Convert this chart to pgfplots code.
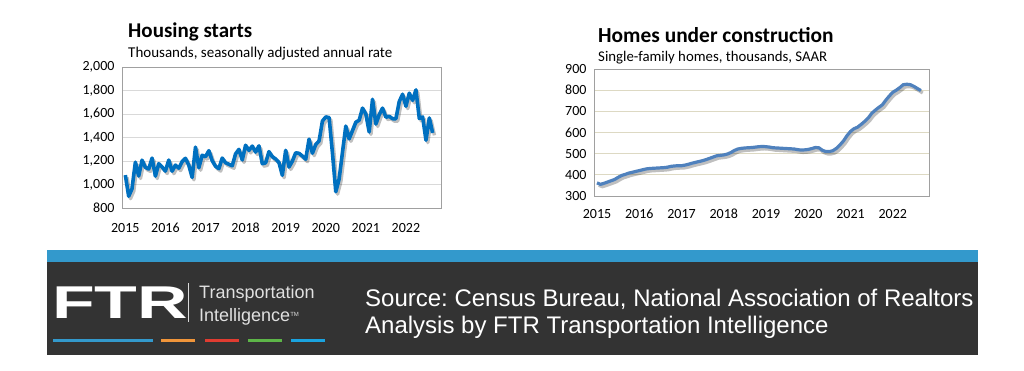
\documentclass[border=0pt]{standalone}
\usepackage{pgfplots}
\pgfplotsset{compat=1.18}
\usepackage{pgfplotstable}
\usepackage{fontspec}
\setmainfont{Carlito}
\newfontfamily\arial{Liberation Sans}
\frenchspacing
\definecolor{lineblue}{HTML}{0070C0}
\definecolor{linetwo}{HTML}{4F81BD}
\definecolor{gridgray}{HTML}{D9D9D9}
\definecolor{gridtan}{HTML}{DDD9C3}
\definecolor{bordergray}{HTML}{A0A0A0}
\definecolor{barblue}{HTML}{3399CC}
\definecolor{darkbg}{HTML}{333333}
\definecolor{dorange}{HTML}{F0953A}
\definecolor{dred}{HTML}{E03C31}
\definecolor{dgreen}{HTML}{5DB548}
\definecolor{dcyan}{HTML}{1AA3DF}

\pgfplotstableread{
m v
0 1080
1 900
2 964
3 1190
4 1072
5 1207
6 1146
7 1132
8 1225
9 1071
10 1177
11 1149
12 1114
13 1208
14 1113
15 1165
16 1139
17 1195
18 1223
19 1164
20 1060
21 1318
22 1142
23 1249
24 1236
25 1288
26 1203
27 1155
28 1135
29 1225
30 1185
31 1172
32 1159
33 1261
34 1299
35 1209
36 1334
37 1290
38 1327
39 1276
40 1329
41 1177
42 1184
43 1280
44 1237
45 1217
46 1187
47 1078
48 1291
49 1149
50 1199
51 1270
52 1265
53 1242
54 1215
55 1386
56 1266
57 1340
58 1371
59 1540
60 1575
61 1570
62 1269
63 938
64 1046
65 1273
66 1497
67 1388
68 1459
69 1530
70 1547
71 1650
72 1600
73 1447
74 1725
75 1514
76 1594
77 1650
78 1573
79 1580
80 1560
81 1560
82 1706
83 1768
84 1666
85 1777
86 1716
87 1805
88 1562
89 1575
90 1377
91 1566
92 1439
}\starts

\pgfplotstableread{
m v
0 362
1 355
2 360
3 366
4 372
5 378
6 388
7 397
8 402
9 408
10 412
11 416
12 420
13 424
14 428
15 430
16 431
17 432
18 433
19 434
20 436
21 440
22 442
23 443
24 443
25 446
26 450
27 455
28 459
29 463
30 467
31 472
32 478
33 484
34 490
35 492
36 494
37 498
38 505
39 515
40 522
41 525
42 527
43 528
44 529
45 531
46 533
47 534
48 533
49 531
50 528
51 527
52 526
53 525
54 524
55 523
56 522
57 519
58 517
59 518
60 520
61 524
62 529
63 528
64 516
65 510
66 510
67 514
68 525
69 541
70 560
71 585
72 605
73 618
74 625
75 638
76 652
77 668
78 690
79 705
80 718
81 730
82 752
83 772
84 790
85 800
86 812
87 826
88 828
89 826
90 818
91 808
92 798
}\underc

\pgfplotsset{
  ftrstyle/.style={
    scale only axis,
    axis line style={bordergray, line width=1pt},
    tick style={draw=none},
    ymajorgrids,
    xtick={0,12,...,84},
    xticklabels={2015,2016,2017,2018,2019,2020,2021,2022},
    tick label style={font=\fontsize{14}{14}\selectfont, text=black},
    /pgf/number format/assume math mode=true,
    /pgf/number format/1000 sep={,},
    xticklabel style={anchor=base, text height=9pt, text depth=0pt},
    yticklabel style={xshift=-4pt},
  }
}

\begin{document}
\begin{tikzpicture}[x=1pt,y=1pt]
\fill[white] (0,0) rectangle (1024,370);
\path[use as bounding box] (0,0) rectangle (1024,370);

% Left chart
\begin{axis}[ftrstyle,
  at={(122pt,162pt)}, anchor=south west,
  width=319pt, height=141pt,
  xmin=-1, xmax=94.5,
  ymin=800, ymax=2000,
  ytick={800,1000,...,2000},
  major grid style={gridgray, line width=0.9pt},
  xticklabel style={yshift=-24pt},
]
\addplot[black, opacity=0.25, line width=3.4pt, xshift=1.8pt, yshift=-2.4pt, line join=round] table[x=m,y=v] {\starts};
\addplot[lineblue, line width=3.6pt, line join=round] table[x=m,y=v] {\starts};
\end{axis}

% Right chart
\begin{axis}[ftrstyle,
  at={(594pt,174pt)}, anchor=south west,
  width=335pt, height=127pt,
  xmin=-0.85, xmax=94.3,
  ymin=300, ymax=900,
  ytick={300,400,...,900},
  major grid style={gridtan, line width=0.9pt},
  xticklabel style={yshift=-22pt},
]
\addplot[black, opacity=0.25, line width=3.2pt, xshift=1.8pt, yshift=-2.4pt, line join=round] table[x=m,y=v] {\underc};
\addplot[linetwo, line width=3.2pt, line join=round] table[x=m,y=v] {\underc};
\end{axis}

% Titles
\node[anchor=base west, inner sep=0, font=\bfseries\fontsize{21}{21}\selectfont] at (128,332) {Housing starts};
\node[anchor=base west, inner sep=0, font=\fontsize{15}{15}\selectfont] at (128,312) {Thousands, seasonally adjusted annual rate};
\node[anchor=base west, inner sep=0, font=\bfseries\fontsize{21.4}{21.4}\selectfont] at (598,327) {Homes under construction};
\node[anchor=base west, inner sep=0, font=\fontsize{14.8}{14.8}\selectfont] at (598,308) {Single-family homes, thousands, SAAR};

% Footer
\fill[barblue] (47,108) rectangle (978,120);
\fill[darkbg] (47,15) rectangle (978,108);
\node[anchor=base west, inner sep=0, text=white] at (52,52) {\scalebox{1.52}[1]{\arial\bfseries\fontsize{46}{46}\selectfont FTR}};
\draw[white!85!black, line width=0.8pt] (188,87) -- (188,48);
\node[anchor=base west, inner sep=0, text=white!88!black, font=\arial\fontsize{18}{18}\selectfont] at (199,72) {Transportation};
\node[anchor=base west, inner sep=0, text=white!88!black, font=\arial\fontsize{18}{18}\selectfont] at (199,49) {Intelligence\raisebox{5pt}{\fontsize{6}{6}\selectfont TM}};
\draw[barblue, line width=3pt] (53,30) -- (153,30);
\draw[dorange, line width=3pt] (161,30) -- (195,30);
\draw[dred, line width=3pt] (205,30) -- (239,30);
\draw[dgreen, line width=3pt] (248,30) -- (282,30);
\draw[dcyan, line width=3pt] (291,30) -- (325,30);
\node[anchor=base west, inner sep=0, text=white, font=\arial\fontsize{24}{24}\selectfont] at (365,64) {Source: Census Bureau, National Association of Realtors};
\node[anchor=base west, inner sep=0, text=white, font=\arial\fontsize{24}{24}\selectfont] at (365,37) {Analysis by FTR Transportation Intelligence};
\end{tikzpicture}
\end{document}
